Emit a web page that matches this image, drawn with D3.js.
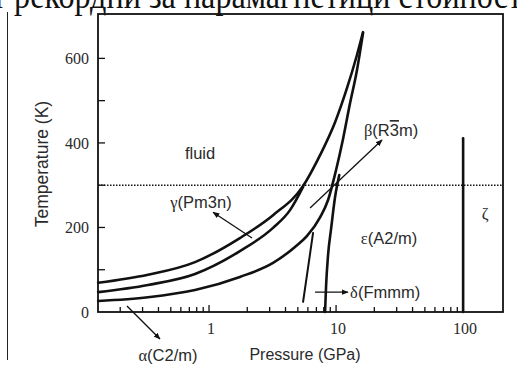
<!DOCTYPE html>
<html>
<head>
<meta charset="utf-8">
<script src="https://cdn.jsdelivr.net/npm/d3@7"></script>
<style>
  body { margin: 0; background: #fff; }
  svg { display: block; }
</style>
</head>
<body>
<div id="chart"></div>
<script>
// phase boundaries, [pressure GPa, temperature K]
const meltingCurve = [[0.134, 69], [0.331, 88], [0.776, 118], [1.75, 175], [3.19, 229],
    [5.50, 298], [7.48, 371], [9.82, 449], [12.2, 530], [14.6, 608], [16.3, 662]];
const gammaBetaCurve = [[0.134, 47], [0.331, 64], [0.776, 90], [1.75, 144], [3.19, 199],
    [4.34, 241], [5.5, 296]];
const alphaBetaCurve = [[0.134, 26], [0.331, 35], [0.776, 52], [1.75, 83], [3.19, 116],
    [4.75, 154], [5.91, 180], [7.48, 224], [8.65, 265], [10.0, 336], [11.3, 407],
    [12.8, 490], [14.6, 572], [16.3, 660]];
const deltaEpsilonCurve = [[8.19, 0], [8.35, 64], [8.65, 135], [9.13, 196], [9.82, 272], [10.6, 324]];
const alphaDeltaCurve = [[5.50, 24], [6.59, 187]];
const zetaLine = [[100, 0], [100, 411]];
const roomTemperature = 300;

const pressureTicks = [1, 10, 100];
const pressureMinorTicks = [0.2, 0.3, 0.4, 0.5, 0.6, 0.7, 0.8, 0.9,
    2, 3, 4, 5, 6, 7, 8, 9, 20, 30, 40, 50, 60, 70, 80, 90];
const temperatureLabels = [0, 200, 400, 600];
const temperatureTicks = [100, 200, 300, 400, 500, 600];

// phase labels: text, pressure, temperature
const phaseLabels = [
    {greek: "", text: "fluid", p: 0.85, t: 376, anchor: "middle"},
    {greek: "γ", text: "(Pm3n)", p: 0.865, t: 260, anchor: "middle"},
    {greek: "β", text: "(R", bar: "3", after: "m)", p: 27.1, t: 430, anchor: "middle"},
    {greek: "ε", text: "(A2/m)", p: 26.1, t: 175, anchor: "middle"},
    {greek: "δ", text: "(Fmmm)", p: 12.9, t: 47, anchor: "start"},
    {greek: "ζ", text: "", p: 149, t: 234, anchor: "middle"},
    {greek: "α", text: "(C2/m)", p: 0.475, t: -102, anchor: "middle"}
];
// arrows from a phase region to its label
const arrows = [
    {from: [2.18, 175], to: [1.075, 236]},
    {from: [6.24, 246], to: [23.0, 407]},
    {from: [0.226, 14], to: [0.411, -64]},
    {from: [6.83, 47], to: [12.4, 47]}
];

const width = 517, height = 365;
const margin = {top: 14, right: 14, bottom: 53, left: 98};

const svg = d3.select("#chart").append("svg")
    .attr("width", width)
    .attr("height", height);

// scrap of the page text above the figure
svg.append("text")
    .attr("x", -8)
    .attr("y", 7.5)
    .attr("textLength", 530)
    .attr("lengthAdjust", "spacingAndGlyphs")
    .style("font-family", "'Liberation Serif', 'Times New Roman', serif")
    .style("font-size", "38px")
    .style("fill", "#111")
    .text("т рекордни за парамагнетици стойност");

svg.append("line")
    .attr("x1", 7.5).attr("x2", 7.5)
    .attr("y1", 12).attr("y2", 360)
    .style("stroke", "#222")
    .style("stroke-width", 1);

const x = d3.scaleLog()
    .domain([0.1337, 206])
    .range([margin.left, width - margin.right]);
const y = d3.scaleLinear()
    .domain([0, 705])
    .range([height - margin.bottom, margin.top]);

const ink = "#111";
const textInk = "#2a2a2a";
const serif = "'Liberation Serif', 'Times New Roman', serif";
const sans = "'Liberation Sans', Arial, sans-serif";

// ticks, pointing inward
const tickGroup = svg.append("g");
tickGroup.selectAll(".xminor")
    .data(pressureMinorTicks)
    .enter().append("line")
    .attr("x1", d => x(d)).attr("x2", d => x(d))
    .attr("y1", y(0)).attr("y2", y(0) - 5)
    .style("stroke", ink).style("stroke-width", 1.3);
tickGroup.selectAll(".xmajor")
    .data(pressureTicks)
    .enter().append("line")
    .attr("x1", d => x(d)).attr("x2", d => x(d))
    .attr("y1", y(0)).attr("y2", y(0) - 7)
    .style("stroke", ink).style("stroke-width", 1.3);
tickGroup.selectAll(".ytick")
    .data(temperatureTicks)
    .enter().append("line")
    .attr("x1", x.range()[0]).attr("x2", x.range()[0] + 7)
    .attr("y1", d => y(d)).attr("y2", d => y(d))
    .style("stroke", ink).style("stroke-width", 1.3);

// tick labels
svg.selectAll(".xlabel")
    .data(pressureTicks)
    .enter().append("text")
    .attr("x", d => x(d) + 2)
    .attr("y", y(0) + 22)
    .attr("text-anchor", "middle")
    .style("font-family", serif)
    .style("font-size", "16px")
    .style("fill", textInk)
    .text(d => d);
svg.selectAll(".ylabel")
    .data(temperatureLabels)
    .enter().append("text")
    .attr("x", 89)
    .attr("y", d => y(d))
    .attr("dy", "0.35em")
    .attr("text-anchor", "end")
    .style("font-family", serif)
    .style("font-size", "16px")
    .style("fill", textInk)
    .text(d => d);

// axis titles
svg.append("text")
    .attr("transform", `translate(48, ${y(350)}) rotate(-90)`)
    .attr("text-anchor", "middle")
    .style("font-family", sans)
    .style("font-size", "17.5px")
    .style("fill", textInk)
    .text("Temperature (K)");
svg.append("text")
    .attr("x", 305)
    .attr("y", 360)
    .attr("text-anchor", "middle")
    .style("font-family", sans)
    .style("font-size", "16px")
    .style("fill", textInk)
    .text("Pressure (GPa)");

// room temperature dotted line
svg.append("line")
    .attr("x1", x.range()[0]).attr("x2", x.range()[1])
    .attr("y1", y(roomTemperature)).attr("y2", y(roomTemperature))
    .style("stroke", ink)
    .style("stroke-width", 1.4)
    .style("stroke-dasharray", "1.5,1.5");

// phase boundaries
const smoothLine = d3.line()
    .x(d => x(d[0]))
    .y(d => y(d[1]))
    .curve(d3.curveMonotoneX);
const straightLine = d3.line()
    .x(d => x(d[0]))
    .y(d => y(d[1]));

const boundaries = [
    {data: meltingCurve, w: 2.6, smooth: true},
    {data: gammaBetaCurve, w: 2.6, smooth: true},
    {data: alphaBetaCurve, w: 2.6, smooth: true},
    {data: deltaEpsilonCurve, w: 2.6, smooth: true},
    {data: alphaDeltaCurve, w: 2, smooth: false},
    {data: zetaLine, w: 2.6, smooth: false}
];
svg.selectAll(".boundary")
    .data(boundaries)
    .enter().append("path")
    .attr("class", "boundary")
    .attr("d", d => d.smooth ? smoothLine(d.data) : straightLine(d.data))
    .style("fill", "none")
    .style("stroke", ink)
    .style("stroke-width", d => d.w)
    .style("stroke-linecap", "round");

// frame
svg.append("rect")
    .attr("x", x.range()[0])
    .attr("y", y.range()[1])
    .attr("width", x.range()[1] - x.range()[0])
    .attr("height", y.range()[0] - y.range()[1])
    .style("fill", "none")
    .style("stroke", ink)
    .style("stroke-width", 1.8);

// arrows
svg.append("defs").append("marker")
    .attr("id", "head")
    .attr("viewBox", "0 0 10 10")
    .attr("refX", 9).attr("refY", 5)
    .attr("markerWidth", 7).attr("markerHeight", 7)
    .attr("markerUnits", "userSpaceOnUse")
    .attr("orient", "auto")
    .append("path")
    .attr("d", "M0,1 L10,5 L0,9 Z")
    .style("fill", ink);

svg.selectAll(".arrow")
    .data(arrows)
    .enter().append("line")
    .attr("x1", d => x(d.from[0])).attr("y1", d => y(d.from[1]))
    .attr("x2", d => x(d.to[0])).attr("y2", d => y(d.to[1]))
    .style("stroke", ink)
    .style("stroke-width", 1.3)
    .attr("marker-end", "url(#head)");

// phase names
const labels = svg.selectAll(".phase")
    .data(phaseLabels)
    .enter().append("text")
    .attr("x", d => x(d.p))
    .attr("y", d => y(d.t))
    .attr("dy", "0.35em")
    .attr("text-anchor", d => d.anchor)
    .style("font-family", sans)
    .style("font-size", "16.5px")
    .style("fill", textInk);
labels.append("tspan")
    .style("font-family", serif)
    .text(d => d.greek);
labels.append("tspan")
    .text(d => d.text);
labels.filter(d => d.bar).append("tspan")
    .style("text-decoration", "overline")
    .text(d => d.bar);
labels.filter(d => d.after).append("tspan")
    .text(d => d.after);
</script>
</body>
</html>
